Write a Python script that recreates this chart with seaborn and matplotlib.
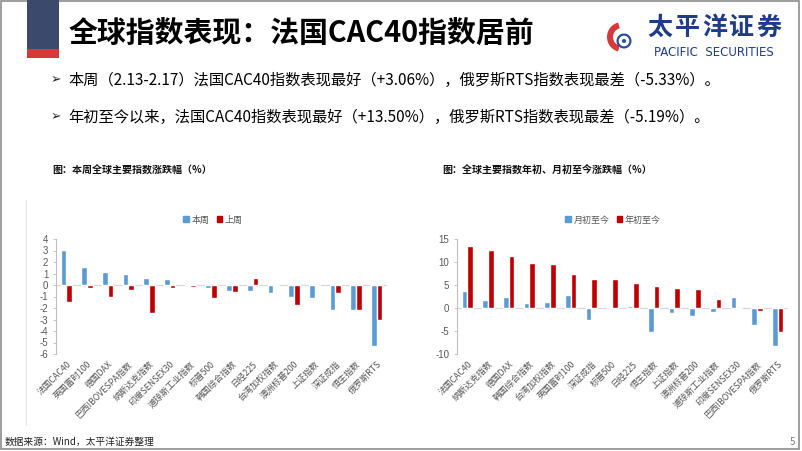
import matplotlib
matplotlib.use('Agg')
import matplotlib.pyplot as plt
import seaborn as sns
import pandas as pd
from matplotlib.patches import Rectangle, Wedge, Patch

# ---------------- data ----------------
left_names = ['法国CAC40', '英国富时100', '德国DAX', '巴西IBOVESPA指数', '纳斯达克指数',
              '印度SENSEX30', '道琼斯工业指数', '标普500', '韩国综合指数', '日经225',
              '台湾加权指数', '澳洲标普200', '上证指数', '深证成指', '恒生指数', '俄罗斯RTS']
this_week = [3.06, 1.58, 1.12, 1.00, 0.60, 0.55, -0.10, -0.25, -0.55, -0.55,
             -0.70, -1.05, -1.10, -2.15, -2.20, -5.33]
last_week = [-1.50, -0.25, -1.05, -0.40, -2.45, -0.25, -0.20, -1.15, -0.65, 0.65,
             -0.10, -1.70, -0.10, -0.70, -2.20, -3.05]
left_series = ['本周', '上周']
left_yticks = list(range(-6, 5))

right_names = ['法国CAC40', '纳斯达克指数', '德国DAX', '韩国综合指数', '台湾加权指数',
               '英国富时100', '深证成指', '标普500', '日经225', '恒生指数', '上证指数',
               '澳洲标普200', '道琼斯工业指数', '印度SENSEX30', '巴西IBOVESPA指数', '俄罗斯RTS']
month_to_date = [3.6, 1.7, 2.3, 1.0, 1.3, 2.9, -2.5, 0.0, 0.5, -5.2, -1.1, -1.7, -0.8, 2.3, -3.8, -8.2]
year_to_date = [13.50, 12.7, 11.3, 9.7, 9.6, 7.4, 6.3, 6.2, 5.5, 4.7, 4.4, 4.2, 2.0, 0.1, -0.6, -5.19]
right_series = ['月初至今', '年初至今']
right_yticks = list(range(-10, 16, 5))

title = '全球指数表现：法国CAC40指数居前'
bullet1 = '本周（2.13-2.17）法国CAC40指数表现最好（+3.06%），俄罗斯RTS指数表现最差（-5.33%）。'
bullet2 = '年初至今以来，法国CAC40指数表现最好（+13.50%），俄罗斯RTS指数表现最差（-5.19%）。'
sub_left = '图：本周全球主要指数涨跌幅（%）'
sub_right = '图：全球主要指数年初、月初至今涨跌幅（%）'
source = '数据来源：Wind，太平洋证券整理'

# ---------------- style ----------------
sns.set_theme(style='white')
plt.rcParams['font.family'] = ['Noto Sans CJK SC', 'DejaVu Sans']
plt.rcParams['axes.unicode_minus'] = False

BLUE = '#5B9BD5'
RED = '#C00000'
W, H = 802, 451

fig = plt.figure(figsize=(8.02, 4.51), dpi=100)
fig.patch.set_facecolor('white')

bg = fig.add_axes([0, 0, 1, 1])
bg.set_xlim(0, W)
bg.set_ylim(H, 0)
bg.axis('off')

# slide frame
bg.add_patch(Rectangle((1, 1), 798, 448, fill=False, ec='#8c8c8c', lw=1.2))
# header marker
bg.add_patch(Rectangle((27, 0), 32, 49, color='#3B4A6B', lw=0))
bg.add_patch(Rectangle((27, 49), 32, 9, color='#D9383A', lw=0))
bg.text(69, 33, title, fontsize=20.8, fontweight='bold', va='center', ha='left', color='black')

# logo
bg.add_patch(Wedge((622, 37), 15, 105, 255, width=6, color='#D9383A', lw=0))
bg.add_patch(Wedge((624, 41), 7.5, 0, 360, width=2.2, color='#2B4C9B', lw=0))
bg.add_patch(Wedge((624, 41), 2.0, 0, 360, color='#2B4C9B', lw=0))
for i, ch in enumerate('太平洋证券'):
    bg.text(646 + 13.7 + 27.4 * i, 28, ch, fontsize=18, fontweight='bold', color='#1F3C88',
            ha='center', va='center')
bg.text(714, 53, 'PACIFIC  SECURITIES', fontsize=8.5, color='#1F3C88', ha='center', va='center',
        family=['DejaVu Sans'])

# bullets
for y, s in [(80, bullet1), (117, bullet2)]:
    bg.text(51, y, '➢', family=['DejaVu Sans'], fontsize=9, va='center', ha='left', color='#222222')
    bg.text(68, y, s, fontsize=11, va='center', ha='left', color='black')

# subtitles
bg.text(52, 171, sub_left, fontsize=7.2, fontweight='bold', va='center', ha='left', color='#111111')
bg.text(442, 171, sub_right, fontsize=7.2, fontweight='bold', va='center', ha='left', color='#111111')

# left chart frame line
bg.plot([26, 26], [200, 425], color='#E3E3E3', lw=0.8)

# footer
bg.text(5, 442, source, fontsize=7, va='center', ha='left', color='#222222')
bg.text(792, 442, '5', fontsize=7, va='center', ha='center', color='#7f7f7f')


def draw_chart(rect, names, s1, s2, series, yticks, ylim, legend_x):
    ax = fig.add_axes(rect)
    df = pd.DataFrame({'指数': names + names, '值': s1 + s2,
                       '系列': [series[0]] * len(names) + [series[1]] * len(names)})
    sns.barplot(data=df, x='指数', y='值', hue='系列', order=names, hue_order=series,
                palette=[BLUE, RED], width=0.55, saturation=1, ax=ax, legend=False)
    ax.set_facecolor('none')
    ax.set_xlim(-0.5, len(names) - 0.5)
    ax.set_ylim(*ylim)
    ax.set_yticks(yticks)
    ax.set_yticklabels([str(v) for v in yticks], fontsize=7, color='#595959', family=['Liberation Sans'])
    ax.axhline(0, color='#D9D9D9', lw=0.9, zorder=0.5)
    for sp in ['top', 'right', 'bottom']:
        ax.spines[sp].set_visible(False)
    ax.spines['left'].set_color('#BFBFBF')
    ax.spines['left'].set_linewidth(0.8)
    ax.tick_params(axis='y', length=2.5, width=0.6, color='#BFBFBF', pad=3, left=True)
    ax.set_xticks(range(len(names)))
    ax.set_xticklabels(names, rotation=45, ha='right', rotation_mode='anchor',
                       fontsize=6.3, color='#555555', fontweight='light')
    ax.tick_params(axis='x', length=0, pad=4)
    ax.set_xlabel('')
    ax.set_ylabel('')
    ax.grid(False)
    handles = [Patch(color=BLUE), Patch(color=RED)]
    fig.legend(handles, series, loc='center', bbox_to_anchor=(legend_x / W, 1 - 220 / H),
               ncol=2, frameon=False, fontsize=6.5, handlelength=0.6, handleheight=0.6,
               handletextpad=0.3, columnspacing=0.8, labelcolor='#555555')
    return ax


draw_chart([56 / W, 1 - 354 / H, 331 / W, 115 / H], left_names, this_week, last_week,
           left_series, left_yticks, (-6, 4), 213)
draw_chart([457 / W, 1 - 354 / H, 331 / W, 115 / H], right_names, month_to_date, year_to_date,
           right_series, right_yticks, (-10, 15), 613)

fig.savefig('out.png', dpi=100, facecolor='white')
